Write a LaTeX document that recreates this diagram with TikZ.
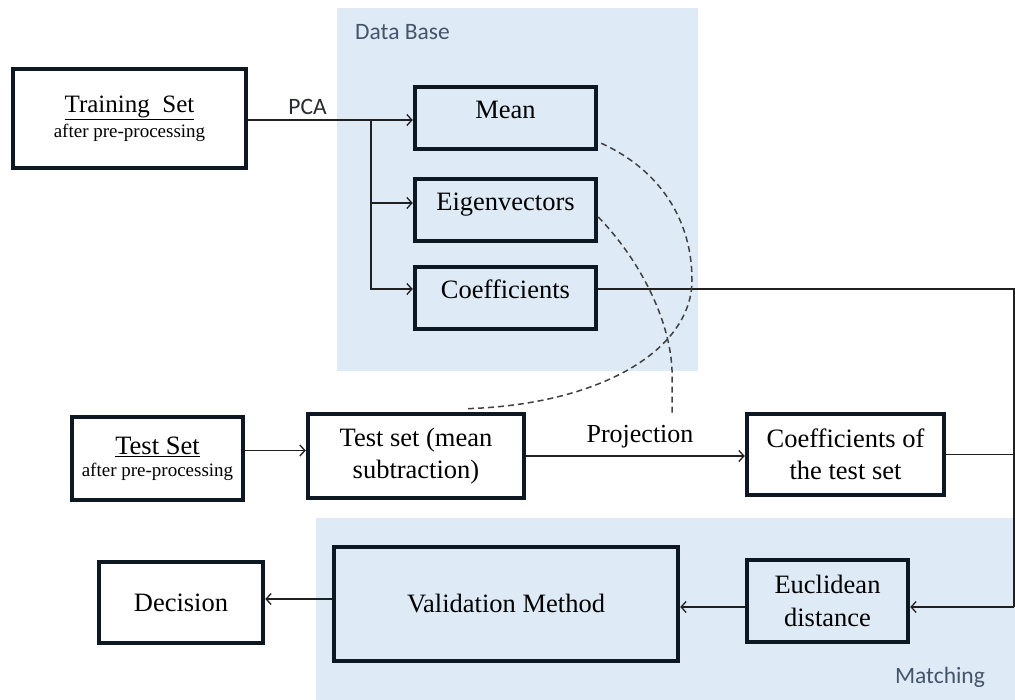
\documentclass[tikz,border=0pt]{standalone}
\usepackage{fontspec}
\setmainfont{Liberation Serif}
\newfontfamily\calib{Carlito}
\usetikzlibrary{arrows.meta}
\definecolor{bgblue}{HTML}{DEEAF6}
\definecolor{boxc}{HTML}{0E1822}
\definecolor{lblc}{HTML}{44546A}
\definecolor{linec}{HTML}{202020}
\begin{document}
\begin{tikzpicture}[x=1pt,y=-1pt,
  box/.style={draw=boxc,line width=4.5pt,align=center,inner sep=0pt,font=\fontsize{26.5}{32.5}\selectfont},
  dbbox/.style={box,text depth=15pt,text height=17pt},
  conn/.style={line width=1.3pt,draw=linec},
  arr/.style={conn,-{Straight Barb[length=5pt,width=11pt,line width=1.3pt]}},
  dsh/.style={line width=1.5pt,draw=linec!85,dash pattern=on 6pt off 4pt},
  lbl/.style={font=\calib\fontsize{23.5}{25}\selectfont,text=lblc,inner sep=0pt},
  txt/.style={font=\fontsize{26}{30}\selectfont,inner sep=0pt}]
\useasboundingbox (0,0) rectangle (1015,700);
\fill[white] (0,0) rectangle (1015,700);
% background regions
\fill[bgblue] (337,8) rectangle (698,371);
\fill[bgblue] (316,518) rectangle (1015,700);
\node[lbl,anchor=west] (dblabel) at (355,32) {Data Base};
\node[lbl] (matchlabel) at (940,677) {Matching};

% boxes
\node[box,minimum width=233pt,minimum height=99pt,font=\fontsize{25}{25}\selectfont] (train) at (129.5,118.5)
  {\underline{Training\ \ Set}\\{\fontsize{19}{21}\selectfont after pre-processing}};
\node[dbbox,minimum width=181pt,minimum height=62pt] (mean) at (505.5,118) {Mean};
\node[dbbox,minimum width=181pt,minimum height=62pt] (eig) at (505.5,210) {Eigenvectors};
\node[dbbox,minimum width=181pt,minimum height=62pt] (coef) at (505.5,298) {Coefficients};

\node[box,minimum width=171pt,minimum height=83pt,font=\fontsize{26.5}{22}\selectfont] (testset) at (157.5,458.5)
  {\underline{Test Set}\\{\fontsize{19}{21}\selectfont after pre-processing}};
\node[box,minimum width=216pt,minimum height=84pt] (testmean) at (416,456) {Test set (mean\\subtraction)};
\node[box,minimum width=197pt,minimum height=81pt] (coeftest) at (845.5,454.5) {Coefficients of\\the test set};

\node[box,minimum width=161pt,minimum height=82pt] (euclid) at (827.5,601) {Euclidean\\distance};
\node[box,minimum width=344pt,minimum height=114pt] (valid) at (506,604) {Validation Method};
\node[box,minimum width=164pt,minimum height=81pt] (decision) at (181,602.5) {Decision};

% labels
\node[lbl,text=linec!80!lblc] (pca) at (307.5,107) {PCA};
\node[txt] (proj) at (640,437) {Projection};

% connectors
\coordinate (br) at (371,120);
\coordinate (rt) at (1014,289);
\coordinate (rb) at (1014,607);
\coordinate (projtop) at (672,416);
\draw[arr] (train.east |- br) -- (br -| mean.west);
\draw[arr] (br) |- ([yshift=7pt]eig.west);
\draw[arr] (br) |- ([yshift=9pt]coef.west);
\draw[conn] ([yshift=9pt]coef.east) -- (rt) -- (rb);
\draw[arr] (rb) -- (rb -| euclid.east);
\draw[conn] (coeftest.east) -- (coeftest.east -| rt);
\draw[arr] ([yshift=8pt]testset.east) -- ([yshift=8pt]testset.east -| testmean.west);
\draw[arr] (testmean.east) -- (testmean.east -| coeftest.west);
\draw[arr] ([yshift=-6pt]euclid.west) -- ([yshift=-6pt]euclid.west -| valid.east);
\draw[arr] ([yshift=5pt]valid.west) -- ([yshift=5pt]valid.west -| decision.east);

% dashed curves
\draw[dsh] ([xshift=3pt,yshift=8pt]mean.south east) .. controls (660,170) and (692,220) .. (692,280)
  .. controls (692,350) and (600,405) .. ([xshift=49pt,yshift=3pt]testmean.north);
\draw[dsh] ([yshift=-7pt]eig.east) .. controls (640,260) and (670,320) .. (672,370) -- (projtop);
\end{tikzpicture}
\end{document}
